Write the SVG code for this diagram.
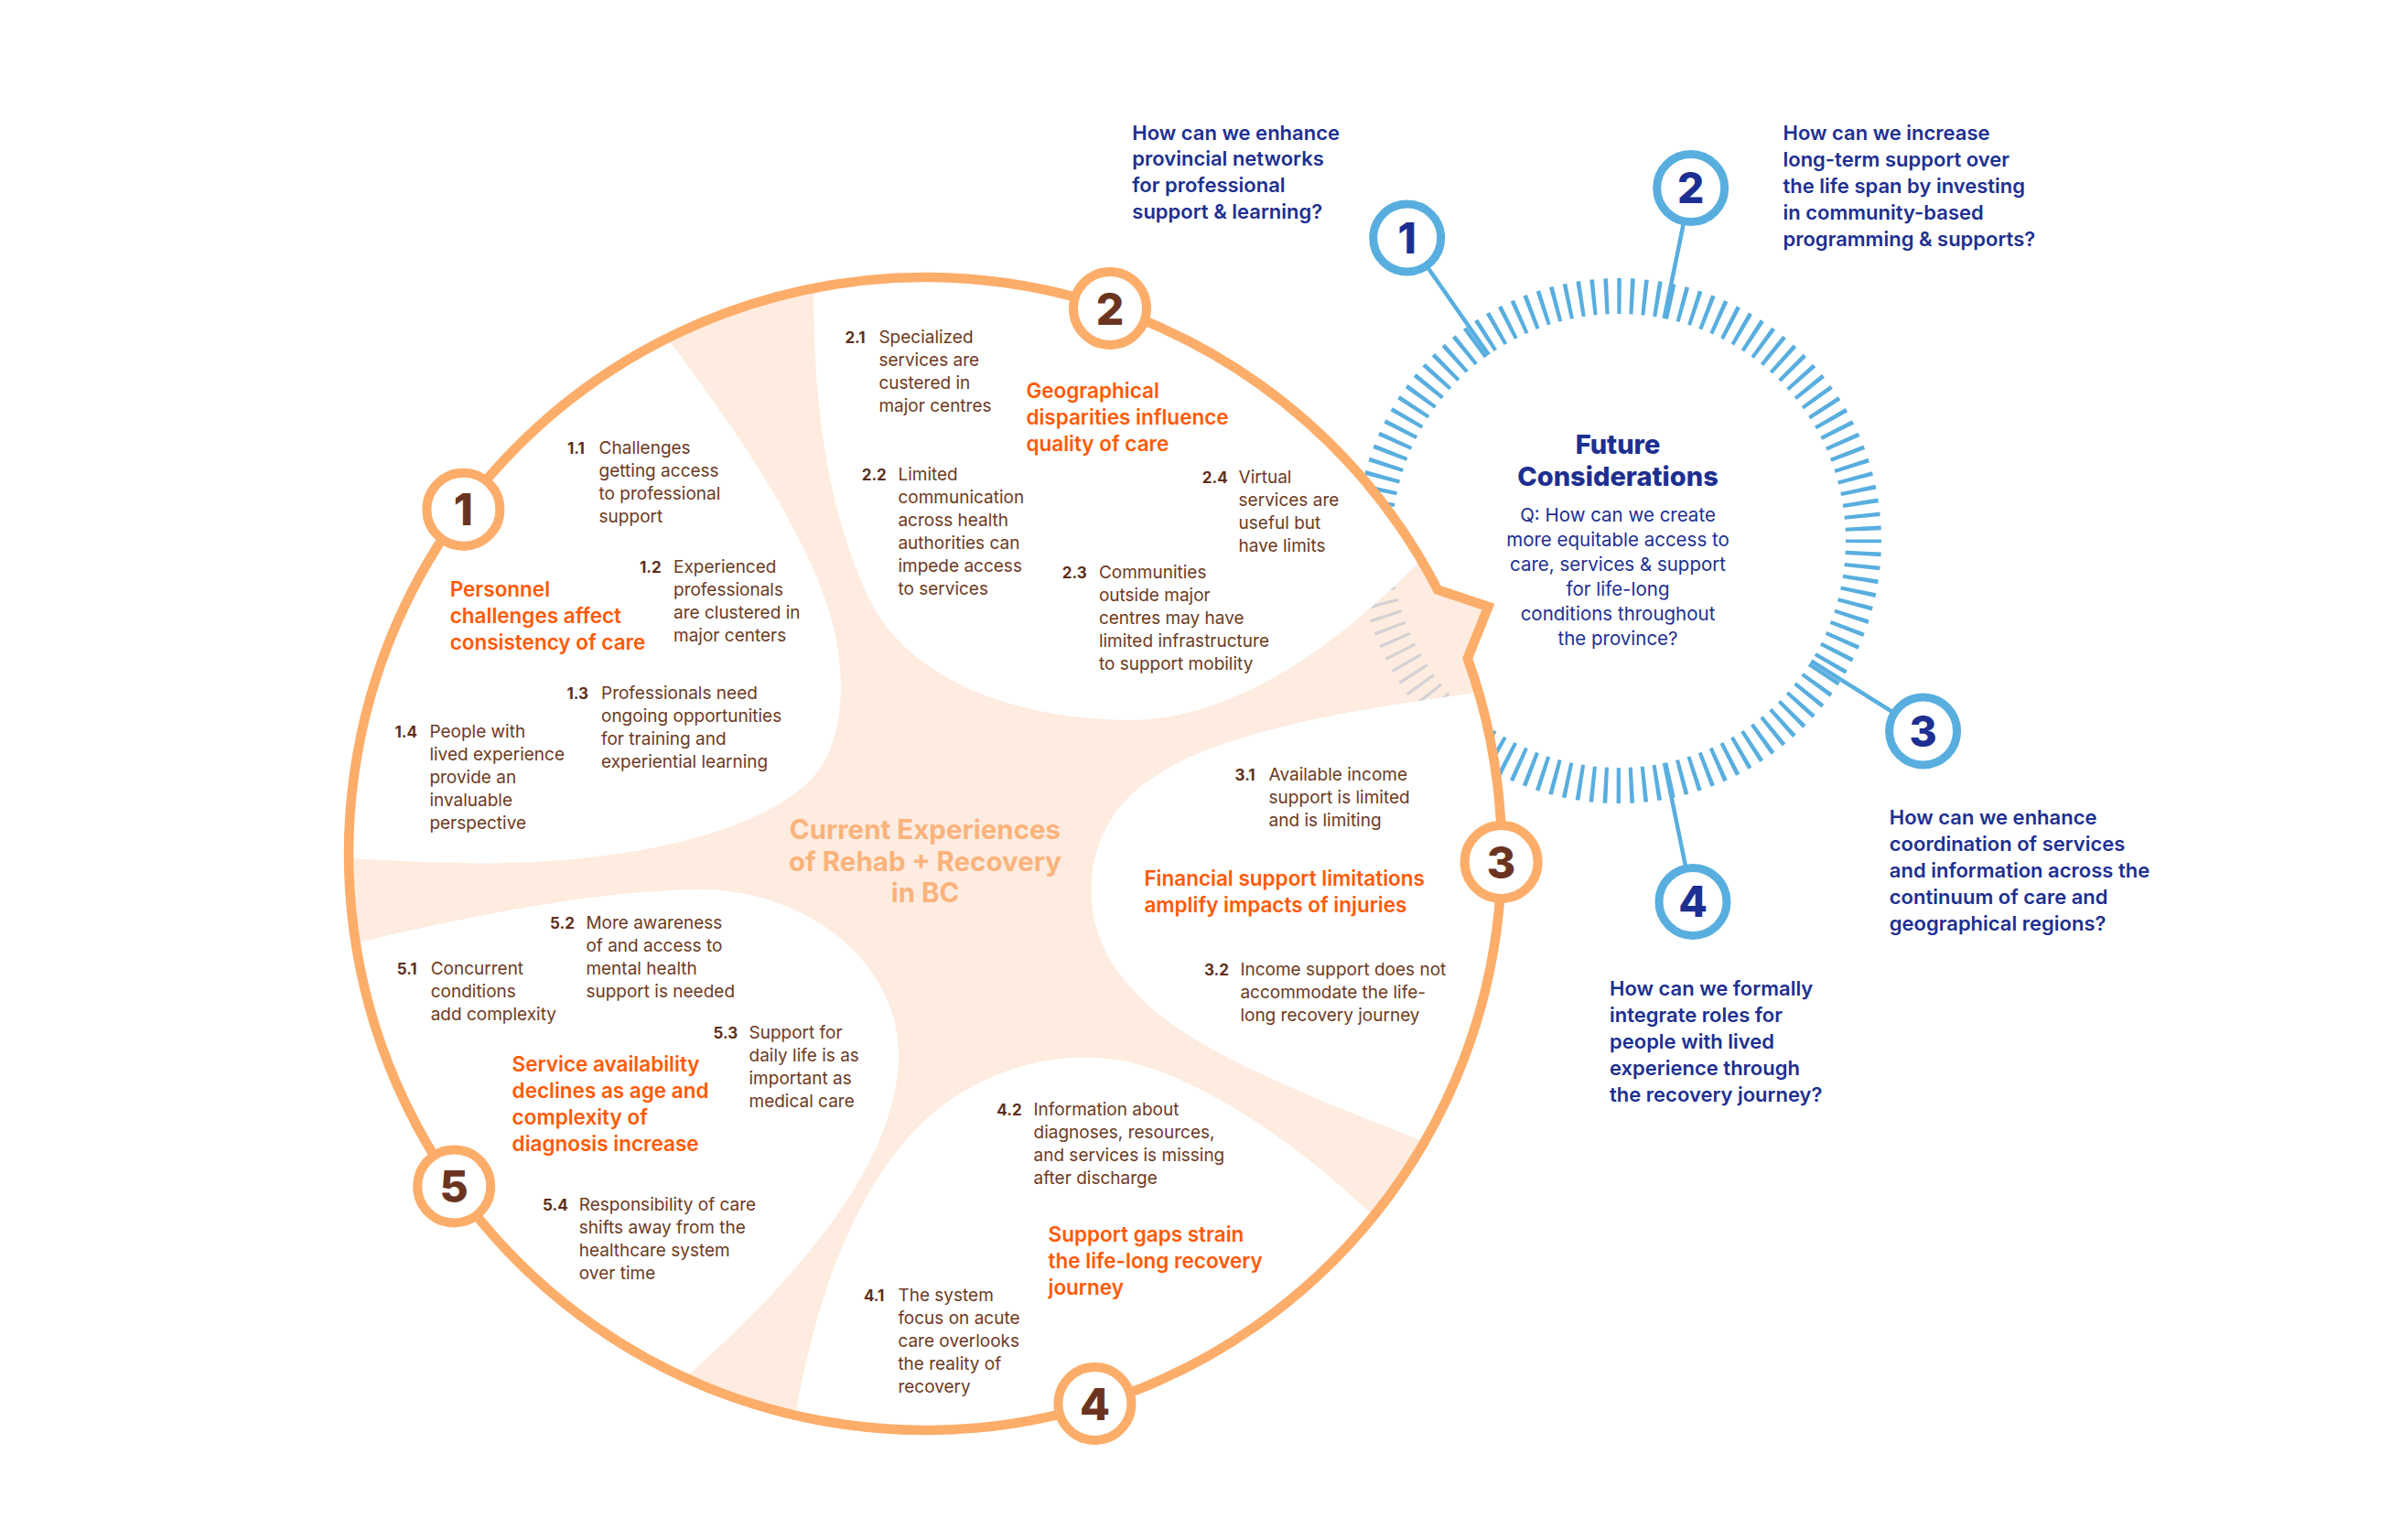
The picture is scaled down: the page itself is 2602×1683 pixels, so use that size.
<svg xmlns="http://www.w3.org/2000/svg" width="2602" height="1683" viewBox="0 0 2602 1683">
<style>
text{font-family:Inter,'Liberation Sans',sans-serif}
.b{font-size:19px;fill:#6E3A22}
.n{font-size:17px;font-weight:700;fill:#5E2E1A}
.h{font-size:22.5px;font-weight:600;fill:#FF5A05}
.t{font-size:29.5px;font-weight:700;fill:#FBB37C;text-anchor:middle}
.q{font-size:22px;font-weight:600;fill:#1D2F91}
.fc{font-size:29px;font-weight:800;fill:#1D2F91;text-anchor:middle}
.fq{font-size:20.5px;fill:#1D2F91;text-anchor:middle}
.on{font-size:48px;font-weight:800;fill:#6B3420;text-anchor:middle}
.bn{font-size:46px;font-weight:800;fill:#1D2F91;text-anchor:middle}
.ob{fill:#fff;stroke:#FDAD6A;stroke-width:10}
.bb{fill:#fff;stroke:#58AEDF;stroke-width:9}
.wr{fill:#fff}
</style>
<defs>
<clipPath id="cc"><circle cx="1011" cy="933" r="630"/></clipPath>
<clipPath id="bc"><path d="M1571.1,644.5 L1626.4,662.9 L1603.8,719.6 A630,630 0 1 1 1571.1,644.5 Z"/></clipPath>
</defs>
<rect width="2602" height="1683" fill="#fff"/>

<g id="future-ring">
<circle cx="1769" cy="591" r="267.5" fill="none" stroke="#58AEDF" stroke-width="39" stroke-dasharray="4.4 9.60627" stroke-dashoffset="2.2"/>
</g>

<g id="current-circle">
<path d="M1571.1,644.5 L1626.4,662.9 L1603.8,719.6 A630,630 0 1 1 1571.1,644.5 Z" fill="#FDECDF"/>
<g clip-path="url(#bc)">
<circle cx="1769" cy="591" r="267.5" fill="none" stroke="#C9CAD1" stroke-width="36" stroke-dasharray="3.2 10.80627" stroke-dashoffset="1.6" opacity="0.8"/>
</g>
<g clip-path="url(#cc)">
<path id="region-1" class="wr" d="M690,318 C760,410 860,540 900,650 C930,730 925,820 880,858 C835,898 740,932 600,941 C500,948 400,938 300,934 L250,934 L250,250 L690,250 Z"/>
<path id="region-2" class="wr" d="M888,250 L889,325 C890,450 905,560 950,655 C995,745 1110,785 1230,787 C1350,789 1480,700 1600,560 L1650,250 Z"/>
<path id="region-3" class="wr" d="M1700,745 L1607,758 C1480,775 1330,800 1260,850 C1180,900 1170,1010 1235,1078 C1290,1145 1420,1195 1620,1272 L1750,1300 L1750,745 Z"/>
<path id="region-4" class="wr" d="M855,1610 L871,1538 C885,1460 920,1310 1010,1225 C1080,1160 1180,1140 1260,1168 C1350,1200 1460,1280 1545,1375 L1600,1700 L855,1700 Z"/>
<path id="region-5" class="wr" d="M330,1045 C450,1015 620,975 760,972 C880,970 980,1050 982,1150 C984,1250 900,1380 720,1530 L300,1700 L300,1045 Z"/>
</g>
<path d="M1571.1,644.5 L1626.4,662.9 L1603.8,719.6 A630,630 0 1 1 1571.1,644.5 Z" fill="none" stroke="#FDAD6A" stroke-width="10.5" stroke-linejoin="miter"/>
<text class="t" x="1011" y="917">Current Experiences</text>
<text class="t" x="1011" y="952">of Rehab + Recovery</text>
<text class="t" x="1011" y="986">in BC</text>
</g>

<g id="connectors" stroke="#58AEDF" stroke-width="4.5" fill="none">
<line x1="1537.7" y1="260" x2="1626.9" y2="387.7"/>
<line x1="1847.7" y1="205.6" x2="1818.6" y2="348"/>
<line x1="2101.6" y1="799" x2="1979.3" y2="722.5"/>
<line x1="1850" y1="985.4" x2="1818.9" y2="833.9"/>
</g>

<g id="node-c1">
<circle class="ob" cx="506.4" cy="556.8" r="40"/>
<text class="on" x="506.4" y="574">1</text>
<text class="h" x="491.7" y="652">Personnel<tspan x="491.7" dy="29">challenges affect</tspan><tspan x="491.7" dy="29">consistency of care</tspan></text>
<text class="n" x="620" y="496">1.1</text>
<text class="b" x="654.6" y="495.6">Challenges<tspan x="654.6" dy="25">getting access</tspan><tspan x="654.6" dy="25">to professional</tspan><tspan x="654.6" dy="25">support</tspan></text>
<text class="n" x="699" y="626">1.2</text>
<text class="b" x="736" y="626">Experienced<tspan x="736" dy="25">professionals</tspan><tspan x="736" dy="25">are clustered in</tspan><tspan x="736" dy="25">major centers</tspan></text>
<text class="n" x="619.4" y="763.5">1.3</text>
<text class="b" x="657" y="763.5">Professionals need<tspan x="657" dy="25">ongoing opportunities</tspan><tspan x="657" dy="25">for training and</tspan><tspan x="657" dy="25">experiential learning</tspan></text>
<text class="n" x="431.4" y="806">1.4</text>
<text class="b" x="469.4" y="806">People with<tspan x="469.4" dy="25">lived experience</tspan><tspan x="469.4" dy="25">provide an</tspan><tspan x="469.4" dy="25">invaluable</tspan><tspan x="469.4" dy="25">perspective</tspan></text>
</g>

<g id="node-c2">
<circle class="ob" cx="1213" cy="337" r="40"/>
<text class="on" x="1213" y="354.5">2</text>
<text class="h" x="1121.4" y="435">Geographical<tspan x="1121.4" dy="29">disparities influence</tspan><tspan x="1121.4" dy="29">quality of care</tspan></text>
<text class="n" x="923.4" y="375">2.1</text>
<text class="b" x="960.4" y="375">Specialized<tspan x="960.4" dy="25">services are</tspan><tspan x="960.4" dy="25">custered in</tspan><tspan x="960.4" dy="25">major centres</tspan></text>
<text class="n" x="941.7" y="524.6">2.2</text>
<text class="b" x="981.4" y="524.6">Limited<tspan x="981.4" dy="25">communication</tspan><tspan x="981.4" dy="25">across health</tspan><tspan x="981.4" dy="25">authorities can</tspan><tspan x="981.4" dy="25">impede access</tspan><tspan x="981.4" dy="25">to services</tspan></text>
<text class="n" x="1160.7" y="631.8">2.3</text>
<text class="b" x="1200.9" y="631.8">Communities<tspan x="1200.9" dy="25">outside major</tspan><tspan x="1200.9" dy="25">centres may have</tspan><tspan x="1200.9" dy="25">limited infrastructure</tspan><tspan x="1200.9" dy="25">to support mobility</tspan></text>
<text class="n" x="1313.8" y="527.8">2.4</text>
<text class="b" x="1353.6" y="527.8">Virtual<tspan x="1353.6" dy="25">services are</tspan><tspan x="1353.6" dy="25">useful but</tspan><tspan x="1353.6" dy="25">have limits</tspan></text>
</g>

<g id="node-c3">
<circle class="ob" cx="1640.6" cy="942" r="40"/>
<text class="on" x="1640.6" y="959.5">3</text>
<text class="n" x="1349.6" y="852.8">3.1</text>
<text class="b" x="1386.6" y="852.8">Available income<tspan x="1386.6" dy="25">support is limited</tspan><tspan x="1386.6" dy="25">and is limiting</tspan></text>
<text class="h" x="1250.4" y="967.5">Financial support limitations<tspan x="1250.4" dy="29">amplify impacts of injuries</tspan></text>
<text class="n" x="1316" y="1066">3.2</text>
<text class="b" x="1355.4" y="1066">Income support does not<tspan x="1355.4" dy="25">accommodate the life-</tspan><tspan x="1355.4" dy="25">long recovery journey</tspan></text>
</g>

<g id="node-c4">
<circle class="ob" cx="1196.4" cy="1534" r="40"/>
<text class="on" x="1196.4" y="1551.5">4</text>
<text class="n" x="1089.3" y="1218.8">4.2</text>
<text class="b" x="1129.5" y="1218.8">Information about<tspan x="1129.5" dy="25">diagnoses, resources,</tspan><tspan x="1129.5" dy="25">and services is missing</tspan><tspan x="1129.5" dy="25">after discharge</tspan></text>
<text class="h" x="1145.5" y="1357">Support gaps strain<tspan x="1145.5" dy="29">the life-long recovery</tspan><tspan x="1145.5" dy="29">journey</tspan></text>
<text class="n" x="943.9" y="1422.3">4.1</text>
<text class="b" x="981.4" y="1422.3">The system<tspan x="981.4" dy="25">focus on acute</tspan><tspan x="981.4" dy="25">care overlooks</tspan><tspan x="981.4" dy="25">the reality of</tspan><tspan x="981.4" dy="25">recovery</tspan></text>
</g>

<g id="node-c5">
<circle class="ob" cx="496.2" cy="1296.4" r="40"/>
<text class="on" x="496.2" y="1314">5</text>
<text class="n" x="433.7" y="1064.7">5.1</text>
<text class="b" x="470.7" y="1064.7">Concurrent<tspan x="470.7" dy="25">conditions</tspan><tspan x="470.7" dy="25">add complexity</tspan></text>
<text class="n" x="601" y="1014.7">5.2</text>
<text class="b" x="640.4" y="1014.7">More awareness<tspan x="640.4" dy="25">of and access to</tspan><tspan x="640.4" dy="25">mental health</tspan><tspan x="640.4" dy="25">support is needed</tspan></text>
<text class="n" x="779.6" y="1135.3">5.3</text>
<text class="b" x="818.5" y="1135.3">Support for<tspan x="818.5" dy="25">daily life is as</tspan><tspan x="818.5" dy="25">important as</tspan><tspan x="818.5" dy="25">medical care</tspan></text>
<text class="h" x="559.6" y="1171">Service availability<tspan x="559.6" dy="29">declines as age and</tspan><tspan x="559.6" dy="29">complexity of</tspan><tspan x="559.6" dy="29">diagnosis increase</tspan></text>
<text class="n" x="593" y="1323.2">5.4</text>
<text class="b" x="632.8" y="1323.2">Responsibility of care<tspan x="632.8" dy="25">shifts away from the</tspan><tspan x="632.8" dy="25">healthcare system</tspan><tspan x="632.8" dy="25">over time</tspan></text>
</g>

<g id="node-future">
<text class="fc" x="1768" y="496">Future</text>
<text class="fc" x="1768" y="530.7">Considerations</text>
<text class="fq" x="1768" y="570.4">Q: How can we create<tspan x="1768" dy="27">more equitable access to</tspan><tspan x="1768" dy="27">care, services &amp; support</tspan><tspan x="1768" dy="27">for life-long</tspan><tspan x="1768" dy="27">conditions throughout</tspan><tspan x="1768" dy="27">the province?</tspan></text>
</g>

<g id="node-f1">
<circle class="bb" cx="1537.7" cy="260" r="37"/>
<text class="bn" x="1537.7" y="276.5">1</text>
<text class="q" x="1237.3" y="152.7">How can we enhance<tspan x="1237.3" dy="28.7">provincial networks</tspan><tspan x="1237.3" dy="28.7">for professional</tspan><tspan x="1237.3" dy="28.7">support &amp; learning?</tspan></text>
</g>
<g id="node-f2">
<circle class="bb" cx="1847.7" cy="205.6" r="37"/>
<text class="bn" x="1847.7" y="222">2</text>
<text class="q" x="1948.5" y="152.6">How can we increase<tspan x="1948.5" dy="29">long-term support over</tspan><tspan x="1948.5" dy="29">the life span by investing</tspan><tspan x="1948.5" dy="29">in community-based</tspan><tspan x="1948.5" dy="29">programming &amp; supports?</tspan></text>
</g>
<g id="node-f3">
<circle class="bb" cx="2101.6" cy="799" r="37"/>
<text class="bn" x="2101.6" y="815.5">3</text>
<text class="q" x="2064.8" y="901.3">How can we enhance<tspan x="2064.8" dy="29">coordination of services</tspan><tspan x="2064.8" dy="29">and information across the</tspan><tspan x="2064.8" dy="29">continuum of care and</tspan><tspan x="2064.8" dy="29">geographical regions?</tspan></text>
</g>
<g id="node-f4">
<circle class="bb" cx="1850" cy="985.4" r="37"/>
<text class="bn" x="1850" y="1002">4</text>
<text class="q" x="1759" y="1087.7">How can we formally<tspan x="1759" dy="29">integrate roles for</tspan><tspan x="1759" dy="29">people with lived</tspan><tspan x="1759" dy="29">experience through</tspan><tspan x="1759" dy="29">the recovery journey?</tspan></text>
</g>
</svg>
